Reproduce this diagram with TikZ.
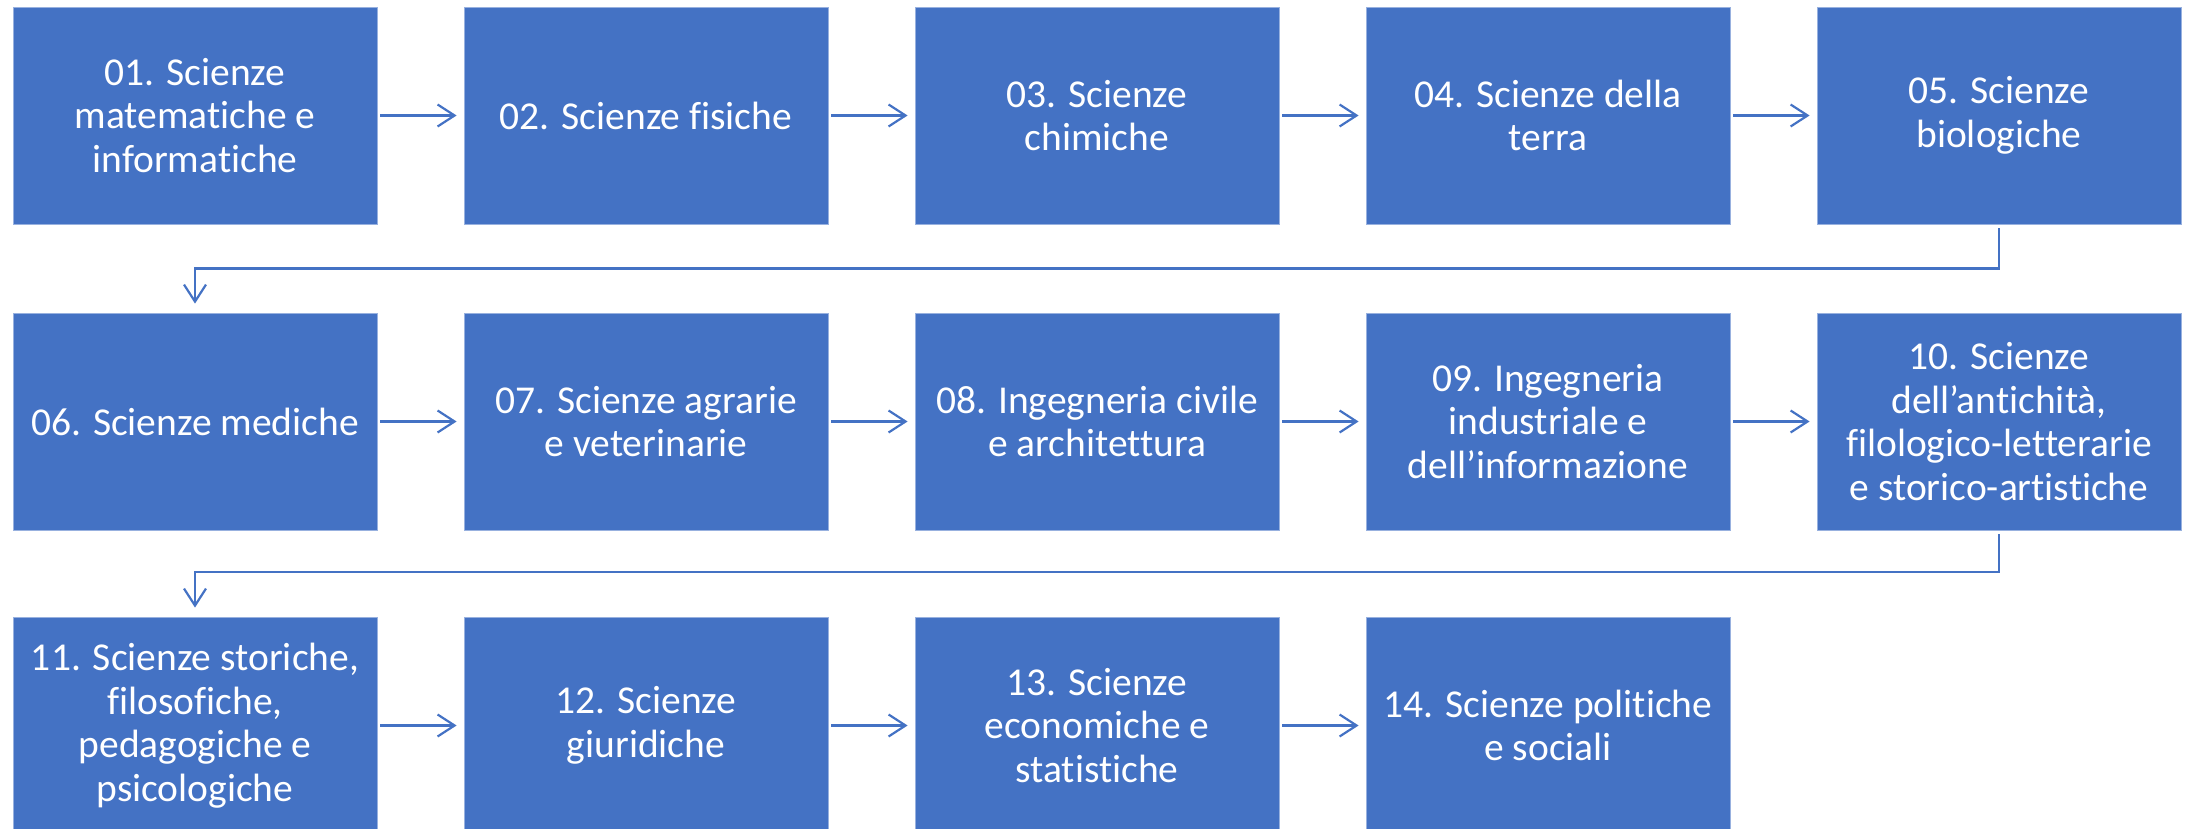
\documentclass[tikz,border=0pt]{standalone}
\usepackage{fontspec}
\setmainfont{Carlito}[Ligatures={NoCommon}]
\usetikzlibrary{arrows.meta}
\definecolor{boxblue}{HTML}{4472C4}
\begin{document}
\begin{tikzpicture}[x=1pt,y=-1pt,
  box/.style={fill=boxblue, draw=boxblue!55!white, line width=0.8pt, minimum width=364pt, minimum height=217pt, inner sep=0pt, text=white, align=center, font=\fontsize{39.5}{43.5}\selectfont},
  arr/.style={draw=boxblue, line width=2.2pt, -{Straight Barb[length=17pt,width=22pt]}, shorten <=3pt, shorten >=7pt},
  varr/.style={draw=boxblue, line width=2.2pt, -{Straight Barb[length=17pt,width=22pt]}, shorten <=4pt, shorten >=9pt}]
\useasboundingbox (0,0) rectangle (2185,829);
\clip (0,0) rectangle (2185,829);
% row 1
\node[box] (b1) at (195,115.5) {01. Scienze\\matematiche e\\informatiche};
\node[box] (b2) at (646,115.5) {02. Scienze fisiche};
\node[box] (b3) at (1097,115.5) {03. Scienze\\chimiche};
\node[box] (b4) at (1548,115.5) {04. Scienze della\\terra};
\node[box] (b5) at (1999,115.5) {05. Scienze\\biologiche};
% row 2
\node[box] (b6) at (195,421.5) {06. Scienze mediche};
\node[box] (b7) at (646,421.5) {07. Scienze agrarie\\e veterinarie};
\node[box] (b8) at (1097,421.5) {08. Ingegneria civile\\e architettura};
\node[box] (b9) at (1548,421.5) {09. Ingegneria\\industriale e\\dell’informazione};
\node[box] (b10) at (1999,421.5) {10. Scienze\\dell’antichità,\\filologico-letterarie\\e storico-artistiche};
% row 3
\node[box] (b11) at (195,725.5) {11. Scienze storiche,\\filosofiche,\\pedagogiche e\\psicologiche};
\node[box] (b12) at (646,725.5) {12. Scienze\\giuridiche};
\node[box] (b13) at (1097,725.5) {13. Scienze\\economiche e\\statistiche};
\node[box] (b14) at (1548,725.5) {14. Scienze politiche\\e sociali};
% connectors
\foreach \a/\b in {b1/b2,b2/b3,b3/b4,b4/b5,b6/b7,b7/b8,b8/b9,b9/b10,b11/b12,b12/b13,b13/b14}
  \draw[arr] (\a.east) -- (\b.west);
\coordinate (m1) at (2001,268.5);
\coordinate (m2) at (2001,572);
\draw[varr] (b5.south) -- (b5.south |- m1) -| (b6.north);
\draw[varr] (b10.south) -- (b10.south |- m2) -| (b11.north);
\end{tikzpicture}
\end{document}
